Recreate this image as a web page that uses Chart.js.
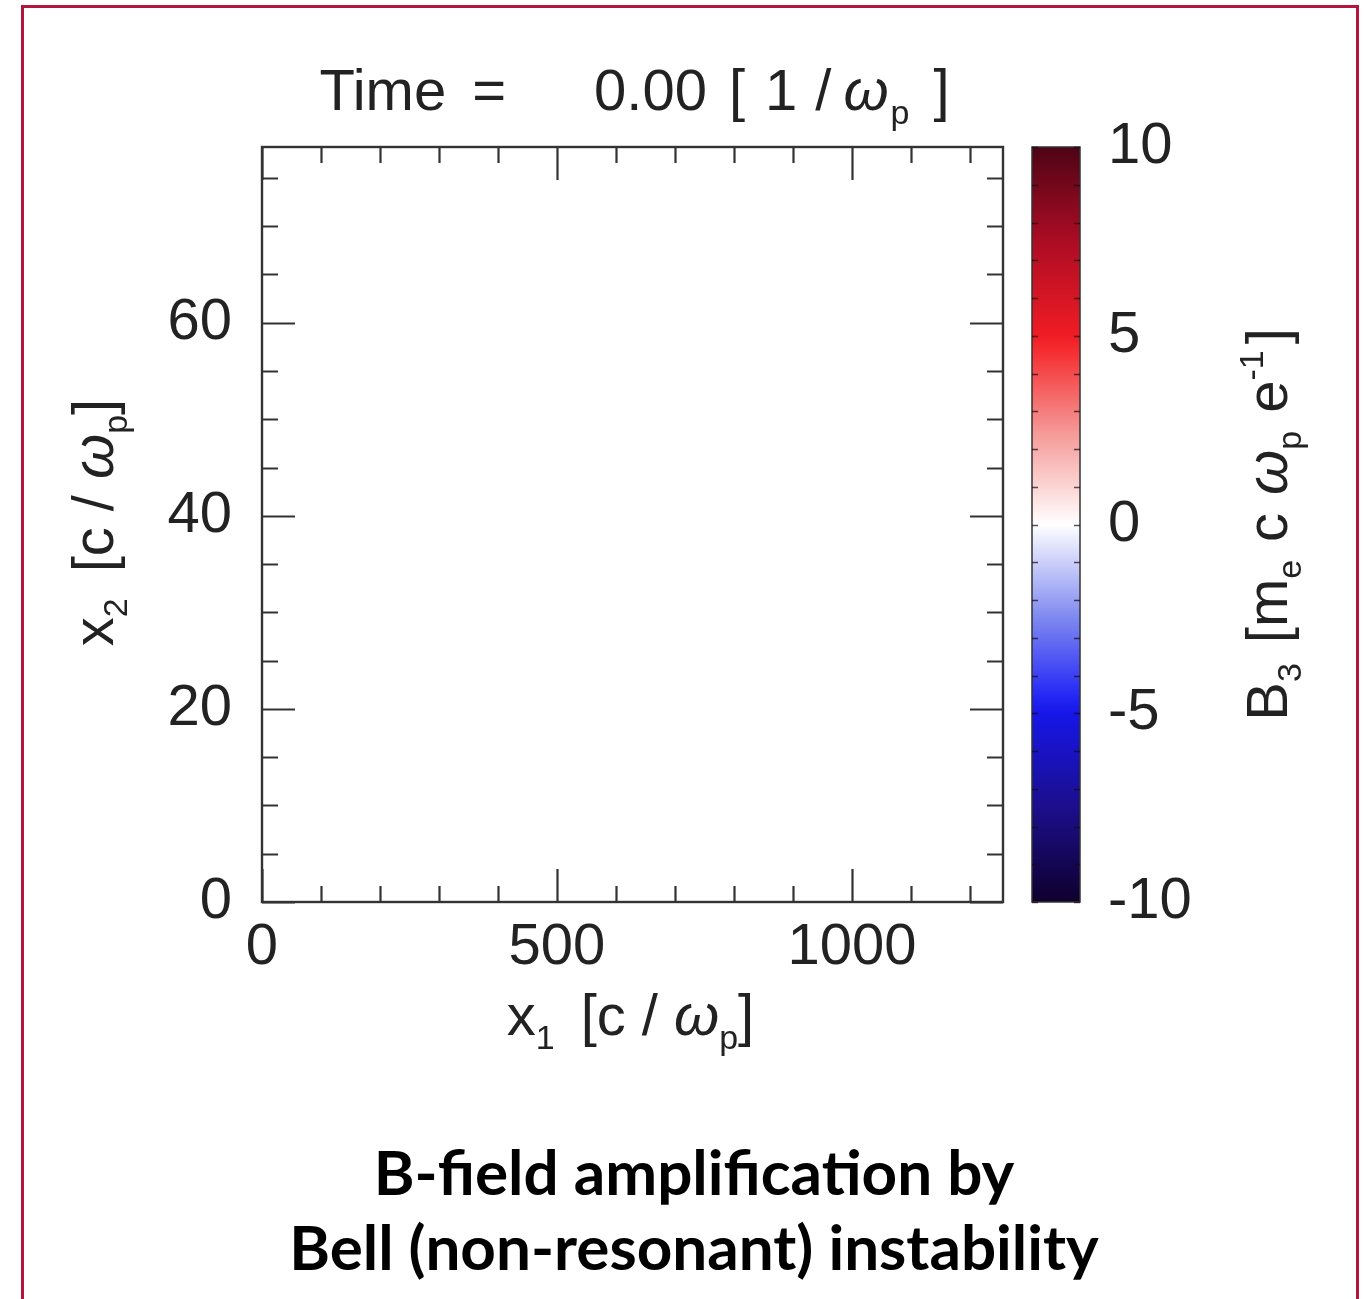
<!DOCTYPE html>
<html><head><meta charset="utf-8">
<script src="https://cdn.jsdelivr.net/npm/chart.js@4.4.1/dist/chart.umd.min.js"></script>
<style>
html,body{margin:0;padding:0;background:#fff;overflow:hidden;width:1364px;height:1299px;}
#frame{position:absolute;left:21px;top:5px;width:1332px;height:1400px;border:3px solid #b3153c;border-bottom:none;box-sizing:content-box;}
#main{position:absolute;left:0;top:0;}
#cbar{position:absolute;left:1000px;top:0;}
#caption{position:absolute;left:24px;width:1340px;top:1134px;text-align:center;font-family:Lato,'Open Sans',sans-serif;font-weight:bold;font-size:62px;line-height:75px;color:#000;}
</style></head><body>
<div id="frame"></div>
<canvas id="main" width="1364" height="1100"></canvas>
<canvas id="cbar" width="364" height="1100"></canvas>
<div id="caption">B-field amplification by<br>Bell (non-resonant) instability</div>
<script>
// ---- data ----
const timeLabel = '0.00';
const xRange = [0, 1256];
const yRange = [0, 78.2];
const xTickLabels = [0, 500, 1000];
const yTickLabels = [0, 20, 40, 60];
const xMinorStep = 100;
const yMinorStep = 5;
const fieldPoints = [];            // B3 = 0 everywhere at t = 0 -> nothing coloured
const cbRange = [-10, 10];
const cbTickLabels = [-10, -5, 0, 5, 10];
const cbMinorStep = 1;

// ---- styles ----
const FONT = "'Liberation Sans', Arial, sans-serif";
const TXT = '#222';
const colormap = [
  [-10, 'rgb(14,0,44)'], [-7.5, 'rgb(28,14,140)'], [-5, 'rgb(22,22,232)'], [-4.5, 'rgb(38,42,245)'],
  [-2.5, 'rgb(125,135,240)'], [0, 'rgb(255,255,255)'], [2.5, 'rgb(245,150,148)'],
  [4.5, 'rgb(245,50,52)'], [5, 'rgb(240,28,36)'], [7.5, 'rgb(172,12,36)'], [10, 'rgb(78,4,22)']
];

function drawRich(ctx, segs, x, y, size, subSize) {
  const parts = segs.map(s => {
    const sz = (s.sub || s.sup) ? subSize : size;
    const font = (s.it ? 'italic ' : '') + sz + 'px ' + FONT;
    ctx.font = font;
    return Object.assign({}, s, {font, w: ctx.measureText(s.t).width, g: s.gap || 0});
  });
  const total = parts.reduce((a, p) => a + p.w + p.g, 0);
  let cx = x - total / 2;
  ctx.textAlign = 'left';
  ctx.textBaseline = 'alphabetic';
  ctx.fillStyle = TXT;
  for (const p of parts) {
    cx += p.g;
    ctx.font = p.font;
    const dy = p.sub ? size * 0.24 : (p.sup ? -size * 0.42 : 0);
    ctx.fillText(p.t, cx, y + dy);
    cx += p.w;
  }
}

function range(a, b, step) { const r = []; for (let v = a; v <= b + 1e-9; v += step) r.push(v); return r; }

const framePlugin = {
  id: 'frame',
  afterDraw(chart) {
    const {ctx, chartArea: a, scales: {x, y}} = chart;
    ctx.save();
    ctx.strokeStyle = '#333';
    ctx.lineWidth = 2.4;
    ctx.strokeRect(a.left, a.top, a.right - a.left, a.bottom - a.top);
    ctx.lineWidth = 2.2;
    ctx.beginPath();
    for (const v of range(xRange[0], xRange[1], xMinorStep)) {
      const px = Math.round(x.getPixelForValue(v)) + 0.5;
      const len = xTickLabels.includes(v) ? 33 : 16;
      ctx.moveTo(px, a.bottom); ctx.lineTo(px, a.bottom - len);
      ctx.moveTo(px, a.top); ctx.lineTo(px, a.top + len);
    }
    for (const v of range(yRange[0], yRange[1], yMinorStep)) {
      const py = Math.round(y.getPixelForValue(v)) + 0.5;
      const len = yTickLabels.includes(v) ? 33 : 16;
      ctx.moveTo(a.left, py); ctx.lineTo(a.left + len, py);
      ctx.moveTo(a.right, py); ctx.lineTo(a.right - len, py);
    }
    ctx.stroke();
    const cxm = (a.left + a.right) / 2, cym = (a.top + a.bottom) / 2;
    // title
    drawRich(ctx, [{t: 'Time'}, {t: '=', gap: 26}, {t: timeLabel, gap: 88}, {t: '[', gap: 22}, {t: '1', gap: 20},
      {t: '/', gap: 18}, {t: 'ω', it: true, gap: 12}, {t: 'p', sub: true, gap: 2}, {t: ']', gap: 24}],
      cxm + 2, a.top - 37, 58, 34);
    // x title
    drawRich(ctx, [{t: 'x'}, {t: '1', sub: true}, {t: '[c', gap: 26}, {t: '/', gap: 16}, {t: 'ω', it: true, gap: 16},
      {t: 'p', sub: true}, {t: ']'}],
      cxm - 2, a.bottom + 133, 58, 34);
    // y title
    ctx.save();
    ctx.translate(a.left - 149, cym - 2);
    ctx.rotate(-Math.PI / 2);
    drawRich(ctx, [{t: 'x'}, {t: '2', sub: true}, {t: '[c', gap: 26}, {t: '/', gap: 16}, {t: 'ω', it: true, gap: 16},
      {t: 'p', sub: true}, {t: ']'}],
      0, 0, 58, 34);
    ctx.restore();
    ctx.restore();
  }
};

const tickFont = {family: FONT, size: 58};
const fmt = v => String(v);

new Chart(document.getElementById('main'), {
  type: 'scatter',
  data: {datasets: [{label: 'B3', data: fieldPoints, pointRadius: 0}]},
  options: {
    responsive: false, animation: false, events: [],
    layout: {padding: {left: 0, top: 147, right: 361, bottom: 98}},
    plugins: {legend: {display: false}, tooltip: {enabled: false}},
    scales: {
      x: {
        type: 'linear', min: xRange[0], max: xRange[1],
        grid: {display: false, drawTicks: false}, border: {display: false},
        ticks: {font: tickFont, color: TXT, padding: 11, maxRotation: 0, autoSkip: false, includeBounds: false, callback: fmt},
        afterBuildTicks: s => { s.ticks = xTickLabels.map(v => ({value: v})); },
        afterFit: s => { s.height = 100; }
      },
      y: {
        type: 'linear', min: yRange[0], max: yRange[1],
        grid: {display: false, drawTicks: false}, border: {display: false},
        ticks: {font: tickFont, color: TXT, padding: 30, autoSkip: false, includeBounds: false, callback: fmt},
        afterBuildTicks: s => { s.ticks = yTickLabels.map(v => ({value: v})); },
        afterFit: s => { s.width = 262; }
      }
    }
  },
  plugins: [framePlugin]
});

const cbarPlugin = {
  id: 'cbarFrame',
  afterDraw(chart) {
    const {ctx, chartArea: a, scales: {y}} = chart;
    ctx.save();
    ctx.strokeStyle = '#333';
    ctx.lineWidth = 1.5;
    ctx.strokeRect(a.left, a.top, a.right - a.left, a.bottom - a.top);
    ctx.strokeStyle = 'rgba(20,10,20,0.7)';
    ctx.lineWidth = 1.5;
    ctx.beginPath();
    for (const v of range(cbRange[0], cbRange[1], cbMinorStep)) {
      const py = Math.round(y.getPixelForValue(v)) + 0.5;
      ctx.moveTo(a.left, py); ctx.lineTo(a.left + 6, py);
      ctx.moveTo(a.right, py); ctx.lineTo(a.right - 6, py);
    }
    ctx.stroke();
    ctx.translate(287, (a.top + a.bottom) / 2);
    ctx.rotate(-Math.PI / 2);
    drawRich(ctx, [{t: 'B'}, {t: '3', sub: true}, {t: '[m', gap: 20}, {t: 'e', sub: true}, {t: 'c', gap: 18},
      {t: 'ω', it: true, gap: 18}, {t: 'p', sub: true}, {t: 'e', gap: 18}, {t: '-1', sup: true}, {t: ']', gap: 6}],
      0, 0, 58, 34);
    ctx.restore();
  }
};

new Chart(document.getElementById('cbar'), {
  type: 'bar',
  data: {
    labels: ['B3'],
    datasets: [{
      data: [cbRange],
      borderWidth: 0, barPercentage: 1, categoryPercentage: 1,
      backgroundColor: (c) => {
        const ch = c.chart;
        if (!ch.chartArea) return '#fff';
        const ys = ch.scales.y;
        const g = ch.ctx.createLinearGradient(0, ys.getPixelForValue(cbRange[0]), 0, ys.getPixelForValue(cbRange[1]));
        for (const [v, col] of colormap) g.addColorStop((v - cbRange[0]) / (cbRange[1] - cbRange[0]), col);
        return g;
      }
    }]
  },
  options: {
    responsive: false, animation: false, events: [],
    layout: {padding: {left: 32, right: 84, top: 147, bottom: 198}},
    plugins: {legend: {display: false}, tooltip: {enabled: false}},
    scales: {
      x: {display: false},
      y: {
        position: 'right', min: cbRange[0], max: cbRange[1],
        grid: {display: false, drawTicks: false}, border: {display: false},
        ticks: {font: tickFont, color: TXT, padding: 28, autoSkip: false, includeBounds: false, callback: fmt},
        afterBuildTicks: s => { s.ticks = cbTickLabels.map(v => ({value: v})); },
        afterFit: s => { s.width = 200; }
      }
    }
  },
  plugins: [cbarPlugin]
});
</script>
</body></html>
